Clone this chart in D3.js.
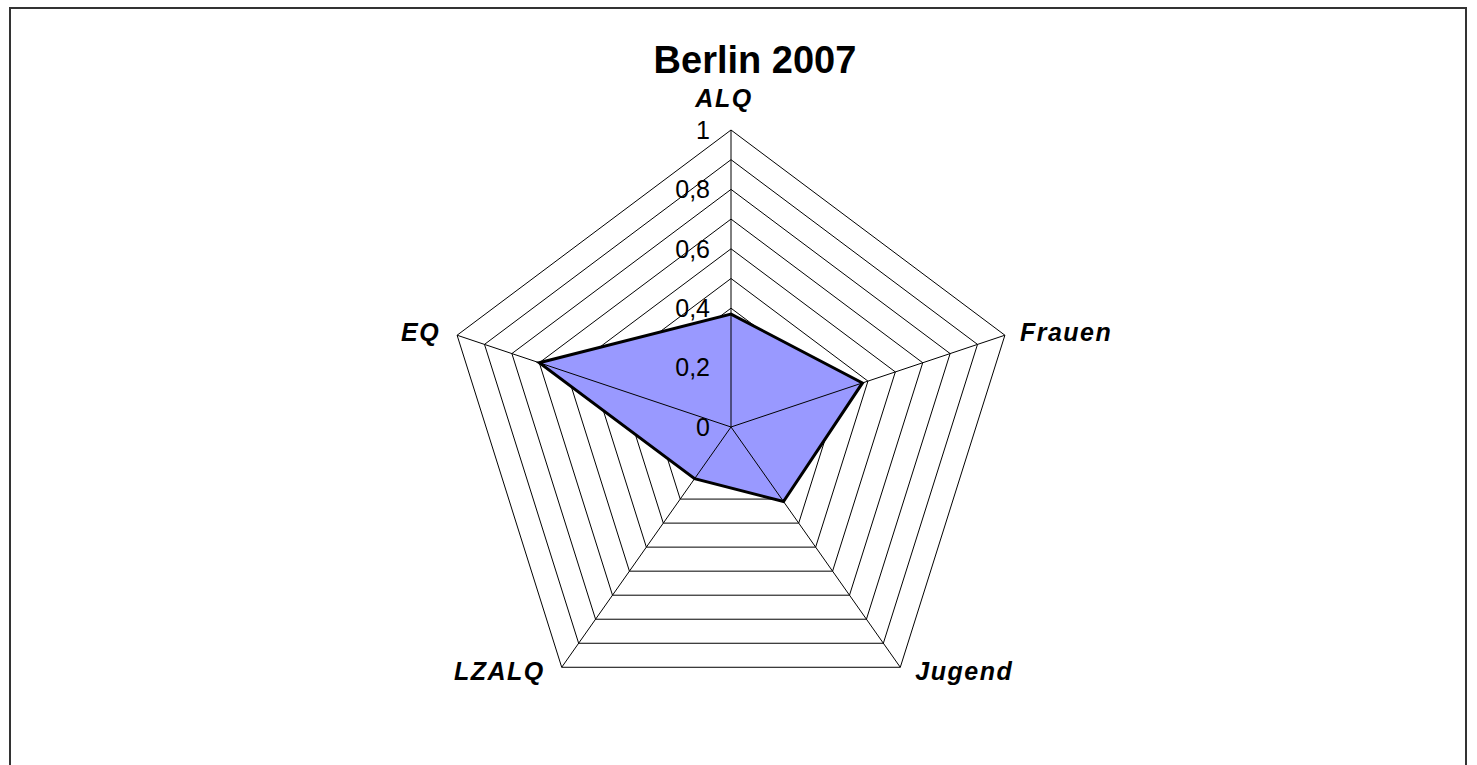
<!DOCTYPE html>
<html>
<head>
<meta charset="utf-8">
<script src="https://cdn.jsdelivr.net/npm/d3@7"></script>
<style>
  body { margin: 0; background: #fff; }
  svg { display: block; font-family: "Liberation Sans", Arial, sans-serif; }
</style>
</head>
<body>
<div id="chart"></div>
<script>
var width = 1477;
var height = 765;

var title = "Berlin 2007";
var axes = ["ALQ", "Frauen", "Jugend", "LZALQ", "EQ"];
var values = [0.38, 0.48, 0.31, 0.215, 0.70];
var rings = [0.1, 0.2, 0.3, 0.4, 0.5, 0.6, 0.7, 0.8, 0.9, 1];
var tickValues = [0, 0.2, 0.4, 0.6, 0.8, 1];
var tickLabels = ["0", "0,2", "0,4", "0,6", "0,8", "1"];

var cx = 731, cy = 427;

var svg = d3.select("#chart").append("svg")
    .attr("width", width)
    .attr("height", height);

// chart border
svg.append("rect")
    .attr("x", 10).attr("y", 8)
    .attr("width", 1456).attr("height", 780)
    .attr("fill", "none")
    .attr("stroke", "#333")
    .attr("stroke-width", 2);

// radial scales (plot area is slightly narrower than tall)
var rX = d3.scaleLinear().domain([0, 1]).range([0, 288]);
var rY = d3.scaleLinear().domain([0, 1]).range([0, 297]);

var angle = d3.scaleBand().domain(axes).range([0, 2 * Math.PI]);

function px(a, v) { return cx + rX(v) * Math.sin(angle(a)); }
function py(a, v) { return cy - rY(v) * Math.cos(angle(a)); }

var g = svg.append("g");

// rings
rings.forEach(function(r) {
    g.append("polygon")
        .attr("points", axes.map(function(a) { return px(a, r) + "," + py(a, r); }).join(" "))
        .attr("fill", "none")
        .attr("stroke", "#000")
        .attr("stroke-width", 1);
});

// data area
g.append("polygon")
    .attr("points", axes.map(function(a, i) { return px(a, values[i]) + "," + py(a, values[i]); }).join(" "))
    .attr("fill", "#9999ff")
    .attr("stroke", "#000")
    .attr("stroke-width", 3)
    .attr("stroke-linejoin", "miter");

// spokes
axes.forEach(function(a) {
    g.append("line")
        .attr("x1", cx).attr("y1", cy)
        .attr("x2", px(a, 1)).attr("y2", py(a, 1))
        .attr("stroke", "#000")
        .attr("stroke-width", 1);
});

// value labels along ALQ axis
tickValues.forEach(function(t, i) {
    g.append("text")
        .attr("x", cx - 21)
        .attr("y", py(axes[0], t))
        .attr("dy", "0.35em")
        .attr("text-anchor", "end")
        .attr("font-size", 25)
        .text(tickLabels[i]);
});

// axis labels
axes.forEach(function(a) {
    var s = Math.sin(angle(a)), c = Math.cos(angle(a));
    var x = px(a, 1), y = py(a, 1);
    var anchor = "middle";
    if (s > 0.1) { anchor = "start"; x += 15; }
    else if (s < -0.1) { anchor = "end"; x -= 17; }
    if (c > 0.9) { y -= 23; x -= 7; }
    else if (c < 0) { y += 13; }
    else { y += 6; }
    g.append("text")
        .attr("x", x).attr("y", y)
        .attr("text-anchor", anchor)
        .attr("font-size", 25)
        .attr("font-weight", "bold")
        .attr("font-style", "italic")
        .attr("letter-spacing", 1.5)
        .text(a);
});

// title
svg.append("text")
    .attr("x", 755).attr("y", 73)
    .attr("text-anchor", "middle")
    .attr("font-size", 38)
    .attr("font-weight", "bold")
    .text(title);
</script>
</body>
</html>
